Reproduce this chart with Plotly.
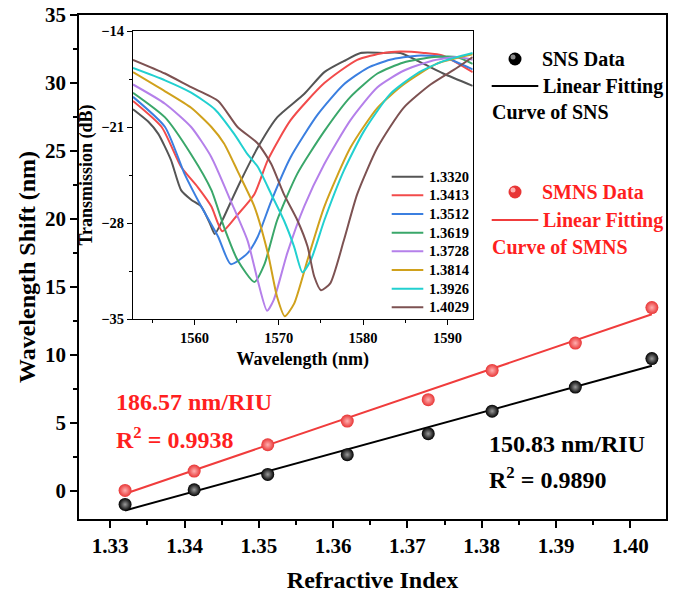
import plotly.graph_objects as go

# ---------------- main plot data ----------------
ri = [1.3320, 1.3413, 1.3512, 1.3619, 1.3728, 1.3814, 1.3926, 1.4029]
sns_shift = [-0.98, 0.10, 1.23, 2.68, 4.22, 5.88, 7.65, 9.74]
smns_shift = [0.05, 1.47, 3.41, 5.15, 6.72, 8.87, 10.88, 13.49]
fit_x = [1.3320, 1.4029]
sns_fit = [-1.42, 9.22]
smns_fit = [-0.19, 13.00]

# ---------------- inset spectra data ----------------
wl_13320 = [1552.7, 1554.5, 1555.7, 1557.2, 1558.4, 1559.6, 1560.8, 1561.8, 1562.4, 1563.3, 1564.5, 1565.5, 1567.5, 1569.8, 1573.0, 1575.4, 1577.7, 1579.7, 1582.4, 1584.4, 1587.2, 1589.5, 1593.0]
db_13320 = [-19.7, -20.6, -21.5, -23.4, -25.6, -26.3, -26.8, -28.0, -28.8, -27.8, -26.2, -24.9, -22.5, -20.3, -18.6, -17.0, -16.2, -15.6, -15.6, -15.6, -16.4, -17.1, -18.0]
wl_13413 = [1552.7, 1556.1, 1558.4, 1560.4, 1562.0, 1563.3, 1565.1, 1567.1, 1568.7, 1571.4, 1575.4, 1579.3, 1582.4, 1584.4, 1587.2, 1589.5, 1593.0]
db_13413 = [-19.1, -21.0, -23.9, -25.4, -26.8, -28.6, -27.4, -25.9, -23.4, -20.5, -17.8, -16.1, -15.6, -15.5, -15.6, -15.8, -17.0]
wl_13512 = [1552.7, 1556.5, 1558.8, 1560.8, 1562.8, 1564.3, 1566.3, 1567.5, 1569.1, 1571.4, 1574.6, 1577.7, 1580.5, 1583.2, 1586.4, 1589.5, 1593.0]
db_13512 = [-18.8, -21.0, -24.4, -26.8, -29.0, -31.0, -30.2, -29.0, -26.4, -23.2, -20.1, -17.9, -16.7, -16.1, -15.8, -15.9, -16.8]
wl_13619 = [1552.7, 1556.5, 1559.6, 1562.0, 1563.5, 1565.1, 1567.1, 1568.3, 1569.8, 1572.2, 1575.4, 1578.5, 1581.7, 1584.8, 1588.4, 1591.1, 1593.0]
db_13619 = [-18.5, -20.3, -23.0, -25.6, -28.3, -30.7, -32.3, -31.0, -27.8, -24.4, -21.3, -18.8, -17.1, -16.3, -15.9, -15.9, -16.4]
wl_13728 = [1552.7, 1556.5, 1559.6, 1562.0, 1564.3, 1566.3, 1567.5, 1568.6, 1569.4, 1571.0, 1573.0, 1575.4, 1578.5, 1581.7, 1584.8, 1588.0, 1591.1, 1593.0]
db_13728 = [-17.9, -19.3, -21.0, -23.2, -26.4, -29.3, -32.2, -34.4, -33.6, -30.2, -26.8, -23.7, -20.5, -18.1, -16.9, -16.2, -15.9, -16.1]
wl_13814 = [1552.7, 1556.5, 1559.6, 1562.0, 1563.5, 1565.1, 1567.1, 1568.7, 1569.8, 1570.7, 1571.8, 1573.4, 1575.4, 1578.5, 1581.7, 1584.8, 1588.7, 1593.0]
db_13814 = [-17.0, -18.4, -19.6, -21.0, -22.2, -24.2, -26.8, -30.2, -33.4, -34.8, -33.9, -30.7, -26.8, -22.5, -19.6, -17.9, -16.4, -15.7]
wl_13926 = [1552.7, 1556.5, 1559.6, 1562.4, 1564.7, 1566.3, 1567.5, 1569.1, 1570.6, 1571.8, 1572.8, 1573.8, 1575.4, 1577.7, 1580.1, 1583.2, 1586.4, 1589.5, 1593.0]
db_13926 = [-16.7, -17.6, -18.5, -19.7, -21.5, -23.0, -23.9, -25.9, -27.8, -29.7, -31.6, -30.7, -27.8, -24.2, -21.3, -18.6, -17.1, -16.2, -15.6]
wl_14029 = [1552.7, 1556.5, 1559.6, 1562.8, 1565.1, 1567.5, 1569.1, 1570.6, 1572.2, 1573.4, 1574.2, 1575.0, 1576.1, 1577.7, 1579.3, 1581.7, 1584.8, 1588.0, 1591.1, 1593.0]
db_14029 = [-16.1, -17.1, -18.1, -19.1, -21.0, -22.2, -23.7, -25.9, -27.8, -29.7, -31.9, -32.9, -32.4, -29.3, -25.9, -22.5, -19.6, -17.9, -16.7, -15.9]

spec_labels = ["1.3320", "1.3413", "1.3512", "1.3619", "1.3728", "1.3814", "1.3926", "1.4029"]
spec_wl = [wl_13320, wl_13413, wl_13512, wl_13619, wl_13728, wl_13814, wl_13926, wl_14029]
spec_db = [db_13320, db_13413, db_13512, db_13619, db_13728, db_13814, db_13926, db_14029]
spec_colors = ["#555555", "#f24b4b", "#3b7fe0", "#3aa76a", "#b580ea", "#d0a11c", "#22d0d0", "#7d5252"]

FONT = "Liberation Serif, Times New Roman, serif"
RED = "#ff1f1f"

fig = go.Figure()

# inset spectra
for lab, x, y, c in zip(spec_labels, spec_wl, spec_db, spec_colors):
    fig.add_trace(go.Scatter(x=x, y=y, mode="lines", name=lab,
                             line=dict(color=c, width=2, shape="spline", smoothing=0.6),
                             xaxis="x2", yaxis="y2", showlegend=False))

# main fits and data
fig.add_trace(go.Scatter(x=fit_x, y=smns_fit, mode="lines", line=dict(color="#f03c3c", width=2),
                         showlegend=False))
fig.add_trace(go.Scatter(x=fit_x, y=sns_fit, mode="lines", line=dict(color="black", width=2),
                         showlegend=False))
fig.add_trace(go.Scatter(x=ri, y=smns_shift, mode="markers", showlegend=False,
                         marker=dict(size=13, color="#e83535",
                                     gradient=dict(type="radial", color="#ffb0b0"),
                                     line=dict(width=0))))
fig.add_trace(go.Scatter(x=ri, y=sns_shift, mode="markers", showlegend=False,
                         marker=dict(size=13, color="#000000",
                                     gradient=dict(type="radial", color="#9a9a9a"),
                                     line=dict(width=0))))

W, H = 678, 599
L, R, T, B = 79, 12, 15, 80
pw, ph = W - L - R, H - T - B


def px(x):
    return (x - L) / pw


def py(y):
    return (H - B - y) / ph


axis_common = dict(showline=True, linecolor="black", mirror=True, ticks="outside",
                   tickcolor="black", showgrid=False, zeroline=False, automargin=False)

fig.update_layout(
    width=W, height=H,
    margin=dict(l=L, r=R, t=T, b=B, autoexpand=False),
    paper_bgcolor="white", plot_bgcolor="white",
    font=dict(family=FONT, color="black", weight="bold"),
    showlegend=False,
    xaxis=dict(**axis_common, range=[1.3258, 1.4048], tick0=1.33, dtick=0.01, tickformat=".2f",
               linewidth=1.8, tickwidth=1.8, ticklen=7,
               minor=dict(dtick=0.005, ticks="outside", ticklen=4, tickwidth=1.5, tickcolor="black"),
               tickfont=dict(size=21, family=FONT, weight="bold"),
               title=dict(text="Refractive Index", font=dict(size=24, family=FONT, weight="bold"), standoff=14)),
    yaxis=dict(**axis_common, range=[-2.05, 35], tick0=0, dtick=5,
               linewidth=1.8, tickwidth=1.8, ticklen=7,
               minor=dict(dtick=2.5, ticks="outside", ticklen=4, tickwidth=1.5, tickcolor="black"),
               tickfont=dict(size=21, family=FONT, weight="bold"),
               title=dict(text="Wavelength Shift (nm)", font=dict(size=24, family=FONT, weight="bold"), standoff=3)),
    xaxis2=dict(**axis_common, domain=[px(133), px(472.7)], anchor="y2", range=[1552.7, 1593.0],
                tick0=1560, dtick=10, linewidth=1.4, tickwidth=1.4, ticklen=5,
                minor=dict(dtick=5, ticks="outside", ticklen=3, tickwidth=1.2, tickcolor="black"),
                tickfont=dict(size=14.5, family=FONT, weight="bold"),
                title=dict(text="Wavelength (nm)", font=dict(size=18, family=FONT, weight="bold"), standoff=7)),
    yaxis2=dict(**axis_common, domain=[py(319), py(31)], anchor="x2", range=[-35, -14],
                tick0=-35, dtick=7, linewidth=1.4, tickwidth=1.4, ticklen=5,
                minor=dict(dtick=3.5, ticks="outside", ticklen=3, tickwidth=1.2, tickcolor="black"),
                tickfont=dict(size=14.5, family=FONT, weight="bold"),
                title=dict(text="Transmission (dB)", font=dict(size=18, family=FONT, weight="bold"), standoff=3)),
)

ann = []
shapes = []


def add_text(text, x, y, size, color):
    ann.append(dict(text=text, x=px(x), y=py(y), xref="paper", yref="paper", xanchor="left",
                    yanchor="middle", showarrow=False, borderpad=0,
                    font=dict(size=size, color=color, family=FONT, weight="bold")))


# slope / R^2 labels
add_text("186.57 nm/RIU", 115, 402, 24, RED)
add_text("R<sup>2</sup> = 0.9938", 115, 438, 24, RED)
add_text("150.83 nm/RIU", 488, 444, 24, "black")
add_text("R<sup>2</sup> = 0.9890", 488, 478, 24, "black")

# right-hand legend
add_text("SNS Data", 541, 59, 20, "black")
add_text("Linear Fitting", 542, 86, 20, "black")
add_text("Curve of SNS", 491, 112, 20, "black")
add_text("SMNS Data", 541, 192, 20, RED)
add_text("Linear Fitting", 542, 220, 20, RED)
add_text("Curve of SMNS", 491, 247, 20, RED)

for yy, c in [(86, "black"), (220, "#f03c3c")]:
    shapes.append(dict(type="line", xref="paper", yref="paper", x0=px(491.7), x1=px(538.3),
                       y0=py(yy), y1=py(yy), line=dict(color=c, width=2.2)))
for yy, c, hl in [(59, "#000000", "#8a8a8a"), (192, "#e83535", "#ffb0b0")]:
    shapes.append(dict(type="circle", xref="paper", yref="paper", xsizemode="pixel", ysizemode="pixel",
                       xanchor=px(515), yanchor=py(yy), x0=-6.5, x1=6.5, y0=-6.5, y1=6.5,
                       fillcolor=c, line=dict(width=0)))
    shapes.append(dict(type="circle", xref="paper", yref="paper", xsizemode="pixel", ysizemode="pixel",
                       xanchor=px(513), yanchor=py(yy - 2), x0=-2.5, x1=2.5, y0=-2.5, y1=2.5,
                       fillcolor=hl, line=dict(width=0)))

# inset legend (drawn manually for exact spacing)
for i, (lab, c) in enumerate(zip(spec_labels, spec_colors)):
    yy = 176.7 + i * 18.66
    shapes.append(dict(type="line", xref="paper", yref="paper", x0=px(391.7), x1=px(423.3),
                       y0=py(yy), y1=py(yy), line=dict(color=c, width=2)))
    add_text(lab, 427.5, yy, 14.5, "black")

fig.update_layout(annotations=ann, shapes=shapes)

fig.write_html("out.html", config={"displayModeBar": False},
               post_script="document.body.style.margin='0';document.body.style.overflow='hidden';")
